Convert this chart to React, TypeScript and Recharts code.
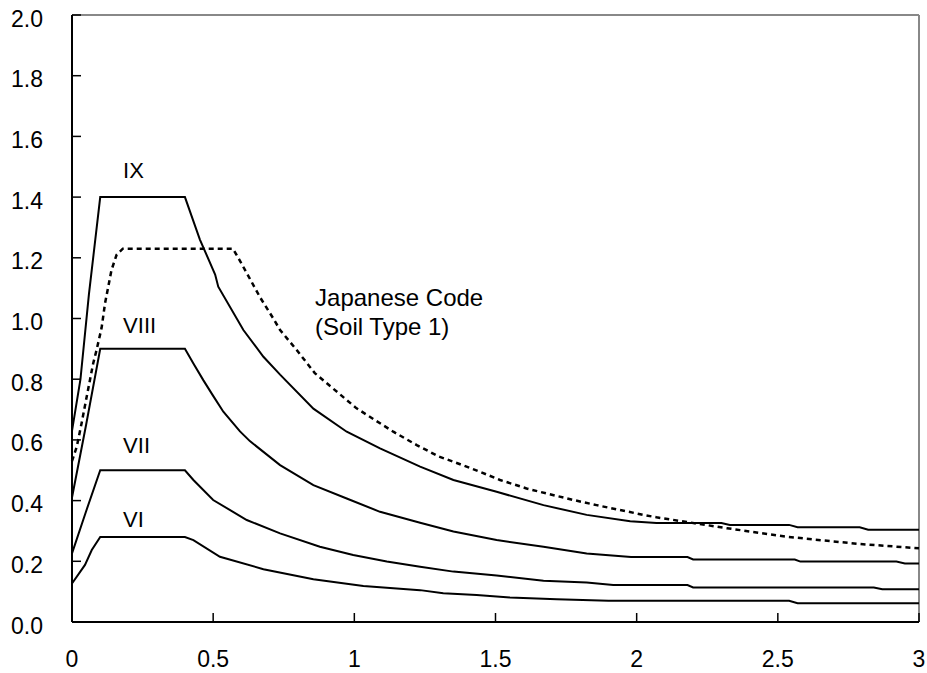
import React from 'react';
import { LineChart, Line, XAxis, YAxis, ReferenceLine, ReferenceDot } from 'recharts';

// ---- data (period T [s], spectral value) ----
const seriesIX = [
  { t: 0, v: 0.63 }, { t: 0.03, v: 0.8 }, { t: 0.06, v: 1.08 }, { t: 0.1, v: 1.4 },
  { t: 0.4, v: 1.4 }, { t: 0.453, v: 1.26 }, { t: 0.507, v: 1.145 }, { t: 0.518, v: 1.105 },
  { t: 0.607, v: 0.962 }, { t: 0.678, v: 0.874 }, { t: 0.737, v: 0.815 }, { t: 0.855, v: 0.703 },
  { t: 0.973, v: 0.627 }, { t: 1.091, v: 0.572 }, { t: 1.233, v: 0.512 }, { t: 1.351, v: 0.468 },
  { t: 1.504, v: 0.429 }, { t: 1.67, v: 0.385 }, { t: 1.823, v: 0.353 }, { t: 1.977, v: 0.332 },
  { t: 2.07, v: 0.326 }, { t: 2.3, v: 0.326 }, { t: 2.33, v: 0.32 }, { t: 2.54, v: 0.32 },
  { t: 2.57, v: 0.312 }, { t: 2.79, v: 0.312 }, { t: 2.82, v: 0.304 }, { t: 3.0, v: 0.304 },
];

const seriesVIII = [
  { t: 0, v: 0.41 }, { t: 0.05, v: 0.65 }, { t: 0.1, v: 0.9 }, { t: 0.4, v: 0.9 },
  { t: 0.43, v: 0.852 }, { t: 0.465, v: 0.797 }, { t: 0.5, v: 0.745 }, { t: 0.536, v: 0.693 },
  { t: 0.595, v: 0.628 }, { t: 0.63, v: 0.596 }, { t: 0.737, v: 0.517 }, { t: 0.855, v: 0.451 },
  { t: 0.973, v: 0.407 }, { t: 1.091, v: 0.363 }, { t: 1.233, v: 0.327 }, { t: 1.351, v: 0.298 },
  { t: 1.504, v: 0.27 }, { t: 1.67, v: 0.248 }, { t: 1.823, v: 0.226 }, { t: 1.98, v: 0.214 },
  { t: 2.18, v: 0.214 }, { t: 2.2, v: 0.206 }, { t: 2.56, v: 0.206 }, { t: 2.58, v: 0.199 },
  { t: 2.92, v: 0.199 }, { t: 2.95, v: 0.193 }, { t: 3.0, v: 0.193 },
];

const seriesVII = [
  { t: 0, v: 0.226 }, { t: 0.05, v: 0.365 }, { t: 0.1, v: 0.5 }, { t: 0.4, v: 0.5 },
  { t: 0.43, v: 0.468 }, { t: 0.5, v: 0.402 }, { t: 0.619, v: 0.336 }, { t: 0.737, v: 0.292 },
  { t: 0.878, v: 0.248 }, { t: 0.996, v: 0.221 }, { t: 1.115, v: 0.199 }, { t: 1.233, v: 0.182 },
  { t: 1.351, v: 0.166 }, { t: 1.504, v: 0.153 }, { t: 1.67, v: 0.136 }, { t: 1.823, v: 0.13 },
  { t: 1.917, v: 0.122 }, { t: 2.18, v: 0.122 }, { t: 2.2, v: 0.114 }, { t: 2.84, v: 0.114 },
  { t: 2.87, v: 0.108 }, { t: 3.0, v: 0.108 },
];

const seriesVI = [
  { t: 0, v: 0.127 }, { t: 0.046, v: 0.188 }, { t: 0.07, v: 0.237 }, { t: 0.1, v: 0.28 },
  { t: 0.4, v: 0.28 }, { t: 0.43, v: 0.27 }, { t: 0.524, v: 0.215 }, { t: 0.678, v: 0.174 },
  { t: 0.855, v: 0.141 }, { t: 1.032, v: 0.119 }, { t: 1.233, v: 0.105 }, { t: 1.315, v: 0.095 },
  { t: 1.433, v: 0.089 }, { t: 1.551, v: 0.081 }, { t: 1.717, v: 0.075 }, { t: 1.9, v: 0.07 },
  { t: 2.54, v: 0.07 }, { t: 2.57, v: 0.062 }, { t: 3.0, v: 0.062 },
];

const seriesJapan = [
  { t: 0, v: 0.53 }, { t: 0.017, v: 0.578 }, { t: 0.034, v: 0.655 }, { t: 0.052, v: 0.742 },
  { t: 0.075, v: 0.852 }, { t: 0.087, v: 0.896 }, { t: 0.105, v: 0.97 }, { t: 0.117, v: 1.05 },
  { t: 0.14, v: 1.16 }, { t: 0.158, v: 1.21 }, { t: 0.18, v: 1.23 }, { t: 0.57, v: 1.23 },
  { t: 0.595, v: 1.19 }, { t: 0.666, v: 1.07 }, { t: 0.713, v: 1.0 }, { t: 0.737, v: 0.962 },
  { t: 0.796, v: 0.896 }, { t: 0.86, v: 0.82 }, { t: 1.008, v: 0.704 }, { t: 1.138, v: 0.627 },
  { t: 1.221, v: 0.583 }, { t: 1.3, v: 0.545 }, { t: 1.351, v: 0.528 }, { t: 1.445, v: 0.495 },
  { t: 1.516, v: 0.468 }, { t: 1.61, v: 0.44 }, { t: 1.687, v: 0.422 }, { t: 1.776, v: 0.402 },
  { t: 1.858, v: 0.385 }, { t: 2.024, v: 0.353 }, { t: 2.07, v: 0.345 }, { t: 2.32, v: 0.309 },
  { t: 2.53, v: 0.281 }, { t: 2.79, v: 0.257 }, { t: 3.0, v: 0.243 },
];

const xTicks = [0, 0.5, 1, 1.5, 2, 2.5, 3];
const yTicks = [0, 0.2, 0.4, 0.6, 0.8, 1.0, 1.2, 1.4, 1.6, 1.8, 2.0];

const curveLabels = [
  { text: 'IX', t: 0.181, v: 1.463 },
  { text: 'VIII', t: 0.181, v: 0.952 },
  { text: 'VII', t: 0.181, v: 0.557 },
  { text: 'VI', t: 0.181, v: 0.313 },
];
const codeLabelLines = ['Japanese Code', '(Soil Type 1)'];
const codeLabelPos = { t: 0.861, v: 1.042 };

// ---- layout ----
const W = 927;
const H = 673;
const MARGIN = { top: 15, right: 8, left: 0, bottom: 0 };
const Y_AXIS_W = 72;
const X_AXIS_H = 51;
const PLOT_LEFT = MARGIN.left + Y_AXIS_W;
const PLOT_BOTTOM = H - MARGIN.bottom - X_AXIS_H;
const FONT = '"Liberation Sans", Arial, sans-serif';

const YTick = (props: any) => {
  const { y, payload } = props;
  return (
    <g>
      <line x1={PLOT_LEFT} x2={PLOT_LEFT + 9} y1={y} y2={y} stroke="#000" strokeWidth={1.5} />
      <text x={PLOT_LEFT - 29} y={y + 11.5} textAnchor="end" fontSize={23} fontFamily={FONT} fill="#000">
        {Number(payload.value).toFixed(1)}
      </text>
    </g>
  );
};

const XTick = (props: any) => {
  const { x, payload } = props;
  return (
    <g>
      <line x1={x} x2={x} y1={PLOT_BOTTOM} y2={PLOT_BOTTOM - 9} stroke="#000" strokeWidth={1.5} />
      <text x={x} y={PLOT_BOTTOM + 45} textAnchor="middle" fontSize={23} fontFamily={FONT} fill="#000">
        {String(payload.value)}
      </text>
    </g>
  );
};

const makeTextShape = (text: string) => (props: any) => (
  <text x={props.cx} y={props.cy} textAnchor="start" fontSize={22} fontFamily={FONT} fill="#000">
    {text}
  </text>
);

const codeShape = (props: any) => (
  <text x={props.cx} y={props.cy} textAnchor="start" fontSize={24} fontFamily={FONT} fill="#000">
    {codeLabelLines.map((s, i) => (
      <tspan key={i} x={props.cx} dy={i === 0 ? 0 : 29}>
        {s}
      </tspan>
    ))}
  </text>
);

export default function App() {
  return (
    <div style={{ position: 'fixed', left: 0, top: 0, width: W, height: H, background: '#fff' }}>
      <LineChart width={W} height={H} margin={MARGIN}>
        <XAxis
          type="number"
          dataKey="t"
          domain={[0, 3]}
          ticks={xTicks}
          interval={0}
          allowDuplicatedCategory={false}
          height={X_AXIS_H}
          axisLine={{ stroke: '#000', strokeWidth: 2 }}
          tickLine={false}
          tick={XTick}
        />
        <YAxis
          type="number"
          domain={[0, 2]}
          ticks={yTicks}
          interval={0}
          width={Y_AXIS_W}
          axisLine={{ stroke: '#000', strokeWidth: 2 }}
          tickLine={false}
          tick={YTick}
        />
        <ReferenceLine y={2} stroke="#888" strokeWidth={2} />
        <ReferenceLine x={3} stroke="#888" strokeWidth={2} />
        <Line data={seriesVI} dataKey="v" type="linear" stroke="#000" strokeWidth={2} dot={false} isAnimationActive={false} />
        <Line data={seriesVII} dataKey="v" type="linear" stroke="#000" strokeWidth={2} dot={false} isAnimationActive={false} />
        <Line data={seriesVIII} dataKey="v" type="linear" stroke="#000" strokeWidth={2} dot={false} isAnimationActive={false} />
        <Line data={seriesIX} dataKey="v" type="linear" stroke="#000" strokeWidth={2} dot={false} isAnimationActive={false} />
        <Line data={seriesJapan} dataKey="v" type="linear" stroke="#000" strokeWidth={2.5} strokeDasharray="5 4" dot={false} isAnimationActive={false} />
        {curveLabels.map((l) => (
          <ReferenceDot key={l.text} x={l.t} y={l.v} r={0} shape={makeTextShape(l.text)} />
        ))}
        <ReferenceDot x={codeLabelPos.t} y={codeLabelPos.v} r={0} shape={codeShape} />
      </LineChart>
    </div>
  );
}
